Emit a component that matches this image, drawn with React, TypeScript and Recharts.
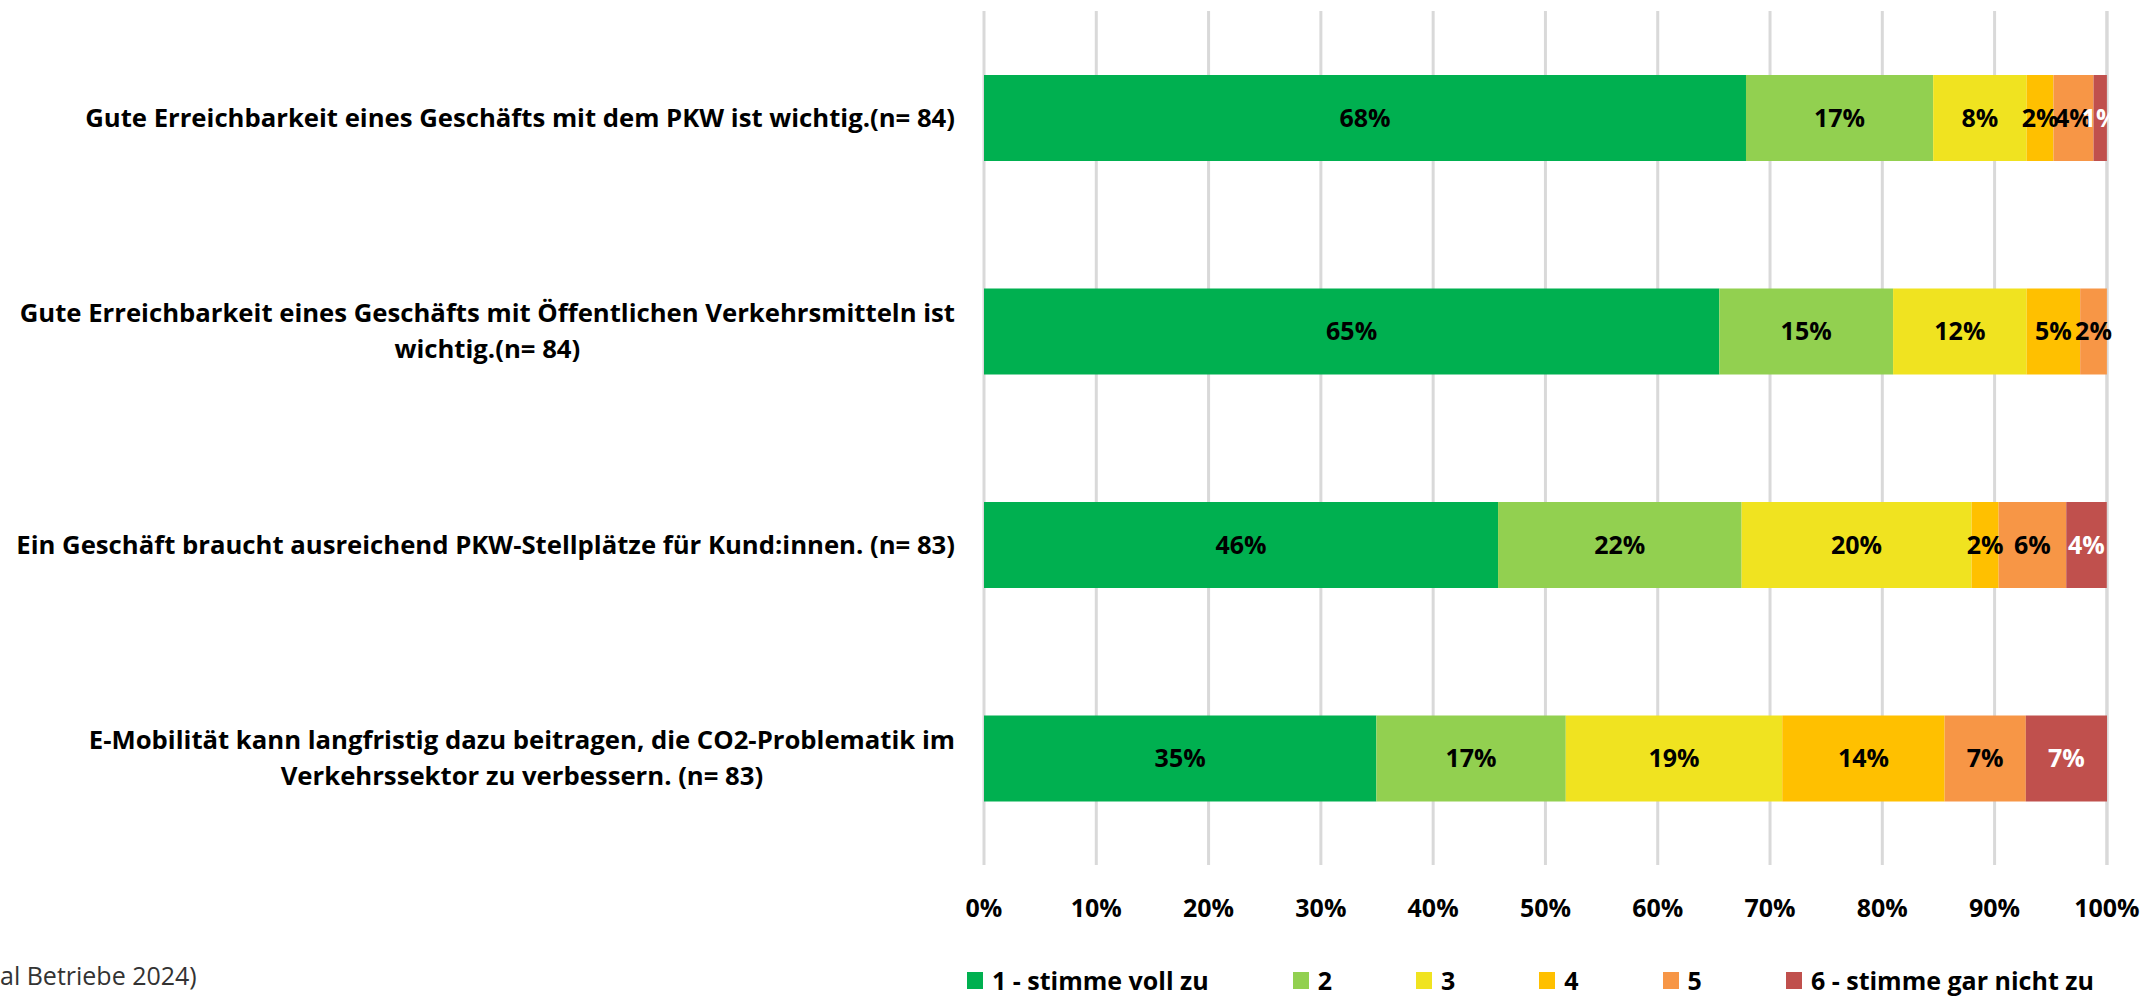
import React from 'react';
import { BarChart, Bar, XAxis, YAxis, CartesianGrid, LabelList } from 'recharts';

// Aussagen (Zeilenumbruch mit \n)
const statements = [
  'Gute Erreichbarkeit eines Geschäfts mit dem PKW ist wichtig.(n= 84)',
  'Gute Erreichbarkeit eines Geschäfts mit Öffentlichen Verkehrsmitteln ist\nwichtig.(n= 84)',
  'Ein Geschäft braucht ausreichend PKW-Stellplätze für Kund:innen. (n= 83)',
  'E-Mobilität kann langfristig dazu beitragen, die CO2-Problematik im\nVerkehrssektor zu verbessern. (n= 83)',
];

const seriesNames = ['1 - stimme voll zu', '2', '3', '4', '5', '6 - stimme gar nicht zu'];

// Anteile in % je Antwortstufe
const answer1 = [67.86, 65.48, 45.78, 34.94];
const answer2 = [16.67, 15.48, 21.69, 16.87];
const answer3 = [8.33, 11.9, 20.48, 19.28];
const answer4 = [2.38, 4.76, 2.41, 14.46];
const answer5 = [3.57, 2.38, 6.02, 7.23];
const answer6 = [1.19, 0, 3.61, 7.23];

const xTicks = [0, 10, 20, 30, 40, 50, 60, 70, 80, 90, 100];

const colors = ['#00B050', '#92D050', '#F0E320', '#FFC000', '#F79646', '#C0504D'];
const labelColors = ['#000', '#000', '#000', '#000', '#000', '#fff'];

const FONT = '"Open Sans", Lato, sans-serif';
const FONT_SIZE = 25;
const CAT_FONT_SIZE = 25.7;

const data = statements.map((name, i) => ({
  name,
  s1: answer1[i],
  s2: answer2[i],
  s3: answer3[i],
  s4: answer4[i],
  s5: answer5[i],
  s6: answer6[i],
}));

let measureCtx: CanvasRenderingContext2D | null = null;
const textWidth = (t: string) => {
  if (!measureCtx) measureCtx = document.createElement('canvas').getContext('2d');
  if (!measureCtx) return t.length * 13;
  measureCtx.font = `bold ${CAT_FONT_SIZE}px "Open Sans"`;
  return measureCtx.measureText(t).width;
};

// mehrzeilige Beschriftung: Block rechtsbündig, Zeilen zentriert
const CategoryTick = ({ x, y, payload }: any) => {
  const lines: string[] = String(payload.value).split('\n');
  const maxW = Math.max(...lines.map(textWidth));
  const cx = x - maxW / 2;
  const lh = 36;
  const startY = y - ((lines.length - 1) * lh) / 2;
  return (
    <g>
      {lines.map((l, i) => (
        <text
          key={i}
          x={cx}
          y={startY + i * lh}
          dy="0.35em"
          textAnchor="middle"
          fontFamily={FONT}
          fontWeight="bold"
          fontSize={CAT_FONT_SIZE}
          fill="#000"
        >
          {l}
        </text>
      ))}
    </g>
  );
};

const fmt = (v: any) => (v > 0 ? `${Math.round(v)}%` : '');

export default function App() {
  const keys = ['s1', 's2', 's3', 's4', 's5', 's6'];
  return (
    <div style={{ position: 'relative', width: 2146, height: 996, background: '#fff', overflow: 'hidden' }}>
      <style>{'body{margin:0;}'}</style>
      <BarChart
        width={2146}
        height={940}
        data={data}
        layout="vertical"
        margin={{ top: 11, right: 39, left: 0, bottom: 0 }}
      >
        <CartesianGrid horizontal={false} stroke="#D9D9D9" strokeWidth={3} />
        <XAxis
          type="number"
          domain={[0, 100]}
          ticks={xTicks}
          tickFormatter={(v) => `${v}%`}
          axisLine={false}
          tickLine={false}
          tickSize={0}
          tickMargin={34}
          height={75}
          interval={0}
          tick={{ fill: '#000', fontSize: FONT_SIZE, fontWeight: 'bold', fontFamily: FONT }}
        />
        <YAxis
          type="category"
          dataKey="name"
          width={984}
          axisLine={false}
          tickLine={false}
          tickSize={0}
          tickMargin={29}
          interval={0}
          tick={<CategoryTick />}
        />
        {keys.map((k, i) => (
          <Bar
            key={k}
            dataKey={k}
            name={seriesNames[i]}
            stackId="a"
            fill={colors[i]}
            barSize={86}
            isAnimationActive={false}
          >
            <LabelList
              dataKey={k}
              position="center"
              formatter={fmt}
              fill={labelColors[i]}
              style={{ fontFamily: FONT, fontWeight: 'bold', fontSize: FONT_SIZE }}
            />
          </Bar>
        ))}
      </BarChart>

      {/* Legende */}
      <div
        style={{
          position: 'absolute',
          left: 967,
          top: 966,
          height: 29,
          display: 'flex',
          alignItems: 'center',
          gap: 84,
          fontFamily: FONT,
          fontWeight: 'bold',
          fontSize: FONT_SIZE,
          lineHeight: '29px',
          color: '#000',
          whiteSpace: 'nowrap',
        }}
      >
        {seriesNames.map((n, i) => (
          <div key={n} style={{ display: 'flex', alignItems: 'center', gap: 9 }}>
            <span style={{ width: 16, height: 17, background: colors[i], display: 'inline-block' }} />
            <span>{n}</span>
          </div>
        ))}
      </div>

      {/* Quelle (links abgeschnitten) */}
      <div
        style={{
          position: 'absolute',
          left: 0,
          top: 960,
          height: 30,
          fontFamily: FONT,
          fontSize: FONT_SIZE,
          lineHeight: '30px',
          color: '#333',
          whiteSpace: 'nowrap',
        }}
      >
        al Betriebe 2024)
      </div>
    </div>
  );
}
